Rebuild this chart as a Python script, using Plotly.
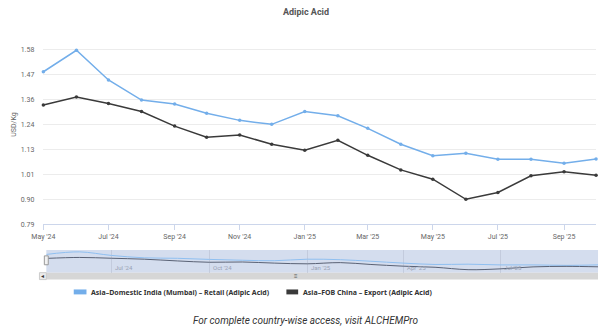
import plotly.graph_objects as go

months = ["2024-05-01", "2024-06-01", "2024-07-01", "2024-08-01", "2024-09-01", "2024-10-01",
          "2024-11-01", "2024-12-01", "2025-01-01", "2025-02-01", "2025-03-01", "2025-04-01",
          "2025-05-01", "2025-06-01", "2025-07-01", "2025-08-01", "2025-09-01", "2025-10-01"]
india_retail = [1.480, 1.577, 1.443, 1.352, 1.334, 1.292, 1.260, 1.242, 1.300, 1.281,
                1.224, 1.152, 1.100, 1.111, 1.084, 1.084, 1.066, 1.085]
china_fob = [1.330, 1.366, 1.336, 1.300, 1.234, 1.184, 1.194, 1.152, 1.125, 1.170,
             1.102, 1.036, 0.994, 0.903, 0.934, 1.009, 1.028, 1.012]

x_tick_vals = ["2024-05-01", "2024-07-01", "2024-09-01", "2024-11-01", "2025-01-01",
               "2025-03-01", "2025-05-01", "2025-07-01", "2025-09-01"]
x_tick_text = ["May '24", "Jul '24", "Sep '24", "Nov '24", "Jan '25",
               "Mar '25", "May '25", "Jul '25", "Sep '25"]
y_step = 0.79 / 7
y_tick_vals = [0.79 + k * y_step for k in range(9)]
y_tick_text = ["0.79", "0.90", "1.01", "1.13", "1.24", "1.36", "1.47", "1.58", ""]
nav_tick_vals = ["2024-07-01", "2024-10-01", "2025-01-01", "2025-04-01", "2025-07-01"]
nav_tick_text = ["Jul '24", "Oct '24", "Jan '25", "Apr '25", "Jul '25"]

series_names = ["Asia–Domestic India (Mumbai) – Retail (Adipic Acid)",
                "Asia–FOB China – Export (Adipic Acid)"]
blue = "#73aeea"
dark = "#3a3a3a"

W, H = 599, 331
def py(p):
    return 1 - p / H
def px(p):
    return p / W

fig = go.Figure()
fig.add_trace(go.Scatter(x=months, y=india_retail, mode="lines+markers", name=series_names[0],
                         line=dict(color=blue, width=1.5), marker=dict(size=3.5, color=blue),
                         xaxis="x", yaxis="y", cliponaxis=False))
fig.add_trace(go.Scatter(x=months, y=china_fob, mode="lines+markers", name=series_names[1],
                         line=dict(color=dark, width=1.5), marker=dict(size=3.5, color=dark),
                         xaxis="x", yaxis="y", cliponaxis=False))
# navigator
fig.add_trace(go.Scatter(x=months, y=india_retail, mode="lines", line=dict(color="#8fbff0", width=1, shape="spline"),
                         xaxis="x2", yaxis="y2", showlegend=False))
fig.add_trace(go.Scatter(x=months, y=china_fob, mode="lines", line=dict(color="#5a6275", width=1, shape="spline"),
                         xaxis="x2", yaxis="y2", showlegend=False))

tick_font = dict(family="Roboto, Arial", size=7, color="#666666")

fig.update_layout(
    width=W, height=H, margin=dict(l=0, r=0, t=0, b=0),
    paper_bgcolor="white", plot_bgcolor="white", showlegend=False,
    xaxis=dict(domain=[px(32), px(596)], type="date", range=["2024-05-01", "2025-10-01"],
               tickvals=x_tick_vals, ticktext=x_tick_text, tickfont=tick_font,
               showgrid=False, showline=True, linecolor="#ccd6eb", linewidth=1,
               ticks="outside", ticklen=5, tickcolor="#ccd6eb", zeroline=False, anchor="y"),
    yaxis=dict(domain=[py(227), py(25)], range=[0.79, 0.79 + 8 * y_step],
               tickvals=y_tick_vals, ticktext=y_tick_text, tickfont=tick_font,
               showgrid=True, gridcolor="#ececec", gridwidth=1, zeroline=False,
               ticks="", ticklabelstandoff=8, anchor="x",
               title=dict(text="USD/Kg", font=dict(family="Roboto, Arial", size=7, color="#666666"), standoff=3)),
    xaxis2=dict(domain=[px(35), px(598)], type="date", range=["2024-05-01", "2025-10-01"],
                tickvals=nav_tick_vals, showticklabels=False, showgrid=True, gridcolor="#c3cbdd",
                gridwidth=1, zeroline=False, anchor="y2"),
    yaxis2=dict(domain=[py(276), py(253)], range=[0.79, 1.65], showticklabels=False,
                showgrid=False, zeroline=False, anchor="x2"),
)

shapes = []
# navigator shaded mask
shapes.append(dict(type="rect", xref="paper", yref="paper", x0=px(35), x1=px(598), y0=py(276), y1=py(253),
                   fillcolor="rgba(102,133,194,0.28)", line=dict(width=0), layer="below"))
# scrollbar
shapes.append(dict(type="rect", xref="paper", yref="paper", x0=px(28), x1=px(598), y0=py(283), y1=py(276),
                   fillcolor="#d6d6d6", line=dict(width=0)))
shapes.append(dict(type="rect", xref="paper", yref="paper", x0=px(28), x1=px(35), y0=py(283), y1=py(276),
                   fillcolor="#ebebeb", line=dict(color="#cccccc", width=1)))
# left handle
shapes.append(dict(type="rect", xref="paper", yref="paper", x0=px(33), x1=px(37), y0=py(268), y1=py(259),
                   fillcolor="#f2f2f2", line=dict(color="#999999", width=1)))
# legend squares
shapes.append(dict(type="rect", xref="paper", yref="paper", x0=px(63), x1=px(76), y0=py(298), y1=py(293),
                   fillcolor=blue, line=dict(width=0)))
shapes.append(dict(type="rect", xref="paper", yref="paper", x0=px(280), x1=px(292), y0=py(298), y1=py(293),
                   fillcolor=dark, line=dict(width=0)))
fig.update_layout(shapes=shapes)

annotations = [
    dict(text="Adipic Acid", x=0.5, y=py(12), xref="paper", yref="paper", showarrow=False,
         font=dict(family="Roboto, Arial", size=9, color="#555555", weight="bold"), xanchor="center", yanchor="middle"),
    dict(text=series_names[0], x=px(79), y=py(296), xref="paper", yref="paper", showarrow=False,
         font=dict(family="Noto Sans", size=7, color="#333333", weight="bold"), xanchor="left", yanchor="middle"),
    dict(text=series_names[1], x=px(295), y=py(296), xref="paper", yref="paper", showarrow=False,
         font=dict(family="Noto Sans", size=7, color="#333333", weight="bold"), xanchor="left", yanchor="middle"),
    dict(text="<i>For complete country-wise access, visit ALCHEMPro</i>", x=px(300), y=py(324), xref="paper",
         yref="paper", showarrow=False, font=dict(family="Roboto, Arial", size=10, color="#333333"),
         xanchor="center", yanchor="middle"),
    dict(text="≡", x=px(290), y=py(279.5), xref="paper", yref="paper", showarrow=False,
         font=dict(size=6, color="#555555"), xanchor="center", yanchor="middle"),
    dict(text="◂", x=px(31.5), y=py(279.5), xref="paper", yref="paper", showarrow=False,
         font=dict(size=6, color="#333333"), xanchor="center", yanchor="middle"),
]
for v, t in zip(nav_tick_vals, nav_tick_text):
    annotations.append(dict(text=t, x=v, y=py(271), xref="x2", yref="paper", showarrow=False,
                            font=dict(family="Roboto, Arial", size=6, color="#9aa3b5"), xanchor="left",
                            yanchor="middle", xshift=2))
fig.update_layout(annotations=annotations)

fig.write_html("out.html")
